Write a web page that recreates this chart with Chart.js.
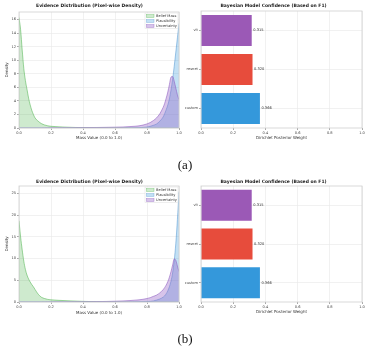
<!DOCTYPE html>
<html>
<head>
<meta charset="utf-8">
<script src="https://cdn.jsdelivr.net/npm/chart.js@4.4.1/dist/chart.umd.min.js"></script>
<style>
  html, body { margin: 0; padding: 0; background: #fff; }
  #fig { position: relative; width: 371px; height: 352px; overflow: hidden; }
  canvas { position: absolute; }
  .sub { position: absolute; width: 60px; text-align: center; font-family: "Liberation Serif", serif; font-size: 13px; color: #111; }
</style>
</head>
<body>
<div id="fig">
  <canvas id="densA" width="185" height="150" style="left:0;top:0"></canvas>
  <canvas id="barsA" width="186" height="150" style="left:185px;top:0"></canvas>
  <canvas id="densB" width="185" height="150" style="left:0;top:170px"></canvas>
  <canvas id="barsB" width="186" height="150" style="left:185px;top:170px"></canvas>
  <div class="sub" style="left:155px;top:157px">(a)</div>
  <div class="sub" style="left:155px;top:331px">(b)</div>
</div>
<script>
// mass values where density was sampled
const massX = [0,0.01,0.02,0.03,0.04,0.05,0.06,0.07,0.08,0.09,0.10,
  0.12,0.14,0.16,0.18,0.20,
  0.25,0.30,0.35,0.40,0.45,0.50,0.55,0.60,0.65,0.70,0.75,0.80,
  0.82,0.84,0.86,0.88,
  0.90,0.91,0.92,0.93,0.94,0.95,0.96,0.97,0.98,0.99,1.00];

// (a)
const beliefA = [16.3,14.5,11.5,8.8,7.0,5.7,4.4,3.4,2.6,2.0,1.5,
  1.0,0.65,0.45,0.32,0.25,
  0.17,0.12,0.08,0.06,0.05,0.04,0.03,0.02,0.02,0.01,0.01,0,
  0,0,0,0,
  0,0,0,0,0,0,0,0,0,0,0];
const plausA = [0,0,0,0,0,0,0,0,0,0,0,
  0,0,0,0,0,
  0,0,0,0,0,0,0,0,0.01,0.02,0.05,0.15,
  0.25,0.4,0.6,1.0,
  1.6,2.1,2.7,3.4,4.3,5.6,7.2,9.1,11.2,13.3,15.4];
const uncertA = [0,0,0,0,0,0,0,0,0,0,0,
  0,0,0.01,0.01,0.02,
  0.03,0.04,0.05,0.06,0.07,0.08,0.1,0.12,0.15,0.22,0.32,0.6,
  0.8,1.1,1.5,2.1,
  3.0,3.6,4.4,5.3,6.4,7.5,7.6,6.9,5.9,4.9,4.2];

// (b)
const beliefB = [18.7,15.0,12.0,9.4,7.5,6.2,5.3,4.6,4.0,3.5,2.9,
  1.8,1.1,0.8,0.6,0.5,
  0.38,0.3,0.22,0.15,0.1,0.07,0.05,0.03,0.02,0.01,0,0,
  0,0,0,0,
  0,0,0,0,0,0,0,0,0,0,0];
const plausB = [0,0,0,0,0,0,0,0,0,0,0,
  0,0,0,0,0,
  0,0,0,0,0,0,0,0,0,0.02,0.05,0.1,
  0.15,0.25,0.45,0.7,
  1.1,1.4,1.9,2.6,3.5,4.8,6.7,9.5,13.5,19.0,25.4];
const uncertB = [0,0,0,0,0,0,0,0,0,0,0,
  0,0,0.01,0.02,0.02,
  0.03,0.03,0.05,0.06,0.08,0.1,0.13,0.18,0.25,0.35,0.5,0.8,
  1.0,1.3,1.6,2.1,
  2.8,3.3,3.9,4.7,5.7,7.0,8.5,9.9,9.6,8.3,7.0];

const models = ['vit', 'resnet', 'custom'];
const weightsA = [0.315, 0.320, 0.366];
const weightsB = [0.315, 0.320, 0.366];
const modelColors = ['#9b59b6', '#e74c3c', '#3498db'];

const FONT = 'DejaVu Sans';
const gridColor = '#e8e8e8';

const frame = {
  id: 'frame',
  afterDraw(chart) {
    const a = chart.chartArea, c = chart.ctx;
    c.save();
    c.strokeStyle = '#cfcfcf';
    c.lineWidth = 0.8;
    c.strokeRect(a.left, a.top, a.right - a.left, a.bottom - a.top);
    c.restore();
  }
};

const boxLegend = {
  id: 'boxLegend',
  afterDraw(chart) {
    const a = chart.chartArea, c = chart.ctx;
    const x = a.right - 34, y = a.top + 1;
    c.save();
    c.fillStyle = 'rgba(255,255,255,0.85)';
    c.strokeStyle = '#dddddd';
    c.lineWidth = 0.5;
    c.fillRect(x, y, 33, 15.5);
    c.strokeRect(x, y, 33, 15.5);
    c.font = '3.6px "' + FONT + '"';
    c.textBaseline = 'middle';
    chart.data.datasets.forEach((ds, i) => {
      const ry = y + 3 + i * 5;
      c.fillStyle = ds.backgroundColor;
      c.fillRect(x + 1.5, ry - 1.4, 7.5, 2.8);
      c.strokeStyle = ds.borderColor;
      c.strokeRect(x + 1.5, ry - 1.4, 7.5, 2.8);
      c.fillStyle = '#333';
      c.fillText(ds.label, x + 11, ry);
    });
    c.restore();
  }
};

const barValues = {
  id: 'barValues',
  afterDatasetsDraw(chart) {
    const c = chart.ctx;
    const meta = chart.getDatasetMeta(0);
    c.save();
    c.font = '3.6px "' + FONT + '"';
    c.fillStyle = '#333';
    c.textBaseline = 'middle';
    meta.data.forEach((bar, i) => {
      c.fillText(chart.data.datasets[0].data[i].toFixed(3), bar.x + 1.5, bar.y);
    });
    c.restore();
  }
};

function axisFont(size) {
  return { family: FONT, size: size };
}

function densityChart(id, belief, plaus, uncert, ymax, step, layout) {
  const pts = arr => massX.map((x, i) => ({ x: x, y: arr[i] }));
  const line = {
    pointRadius: 0, borderWidth: 0.8, fill: 'origin',
    tension: 0.4, cubicInterpolationMode: 'monotone'
  };
  return new Chart(document.getElementById(id), {
    type: 'line',
    data: {
      datasets: [
        Object.assign({ label: 'Belief Mass', data: pts(belief), order: 3,
          borderColor: 'rgba(60,170,60,0.6)', backgroundColor: 'rgba(60,170,60,0.25)' }, line),
        Object.assign({ label: 'Plausibility', data: pts(plaus), order: 2,
          borderColor: 'rgba(52,130,200,0.55)', backgroundColor: 'rgba(52,152,219,0.3)' }, line),
        Object.assign({ label: 'Uncertainty', data: pts(uncert), order: 1,
          borderColor: 'rgba(140,90,190,0.7)', backgroundColor: 'rgba(150,100,200,0.38)' }, line)
      ]
    },
    options: {
      responsive: false,
      animation: false,
      layout: { padding: { left: 0, right: 6, top: 0, bottom: 0 } },
      plugins: {
        legend: { display: false },
        tooltip: { enabled: false },
        title: {
          display: true, text: 'Evidence Distribution (Pixel-wise Density)',
          color: '#222', font: { family: FONT, size: 4.5, weight: 'bold' },
          padding: layout.titlePad
        }
      },
      scales: {
        x: {
          type: 'linear', min: 0, max: 1,
          afterFit: s => { s.height = layout.xh; },
          border: { display: false },
          grid: { color: gridColor, lineWidth: 0.6, tickLength: 2, tickColor: '#555', tickWidth: 0.5 },
          ticks: { stepSize: 0.2, padding: 1, color: '#444', font: axisFont(3.6), maxRotation: 0,
            callback: v => v.toFixed(1) },
          title: { display: true, text: 'Mass Value (0.0 to 1.0)', color: '#333',
            font: axisFont(4), padding: { top: 0, bottom: layout.xTitlePad } }
        },
        y: {
          min: 0, max: ymax,
          afterFit: s => { s.width = 19; },
          afterBuildTicks: s => {
            s.ticks = s.ticks.filter(t => Math.abs(t.value / step - Math.round(t.value / step)) < 1e-6);
          },
          border: { display: false },
          grid: { color: gridColor, lineWidth: 0.6, tickLength: 2, tickColor: '#555', tickWidth: 0.5 },
          ticks: { stepSize: step, padding: 1, color: '#444', font: axisFont(3.6) },
          title: { display: true, text: 'Density', color: '#333',
            font: axisFont(4), padding: { top: 4.6, bottom: 0 } }
        }
      }
    },
    plugins: [frame, boxLegend]
  });
}

function weightChart(id, weights, layout) {
  return new Chart(document.getElementById(id), {
    type: 'bar',
    data: {
      labels: models,
      datasets: [{
        label: 'weight', data: weights,
        backgroundColor: modelColors, borderWidth: 0,
        barPercentage: 0.8, categoryPercentage: 1
      }]
    },
    options: {
      indexAxis: 'y',
      responsive: false,
      animation: false,
      layout: { padding: { left: 0, right: 9, top: 0, bottom: 0 } },
      plugins: {
        legend: { display: false },
        tooltip: { enabled: false },
        title: {
          display: true, text: 'Bayesian Model Confidence (Based on F1)',
          color: '#222', font: { family: FONT, size: 4.5, weight: 'bold' },
          padding: layout.titlePad
        }
      },
      scales: {
        x: {
          min: 0, max: 1,
          afterFit: s => { s.height = layout.xh; },
          border: { display: false },
          grid: { color: gridColor, lineWidth: 0.6, tickLength: 2, tickColor: '#555', tickWidth: 0.5 },
          ticks: { stepSize: 0.2, padding: 1, color: '#444', font: axisFont(3.6), maxRotation: 0,
            callback: v => v.toFixed(1) },
          title: { display: true, text: 'Dirichlet Posterior Weight', color: '#333',
            font: axisFont(4), padding: { top: 0, bottom: layout.xTitlePad } }
        },
        y: {
          afterFit: s => { s.width = 16; },
          border: { display: false },
          grid: { offset: false, color: gridColor, lineWidth: 0.6, tickLength: 2, tickColor: '#555', tickWidth: 0.5 },
          ticks: { padding: 1, color: '#444', font: axisFont(3.6) }
        }
      }
    },
    plugins: [frame, barValues]
  });
}

densityChart('densA', beliefA, plausA, uncertA, 17.1, 2,
  { titlePad: { top: 3.5, bottom: 3.1 }, xh: 22, xTitlePad: 9.6 });
weightChart('barsA', weightsA,
  { titlePad: { top: 3.5, bottom: 2.1 }, xh: 22, xTitlePad: 9.4 });
densityChart('densB', beliefB, plausB, uncertB, 26.7, 5,
  { titlePad: { top: 9.6, bottom: 1 }, xh: 18, xTitlePad: 4.9 });
weightChart('barsB', weightsB,
  { titlePad: { top: 9.6, bottom: 1 }, xh: 18, xTitlePad: 5.2 });
</script>
</body>
</html>
